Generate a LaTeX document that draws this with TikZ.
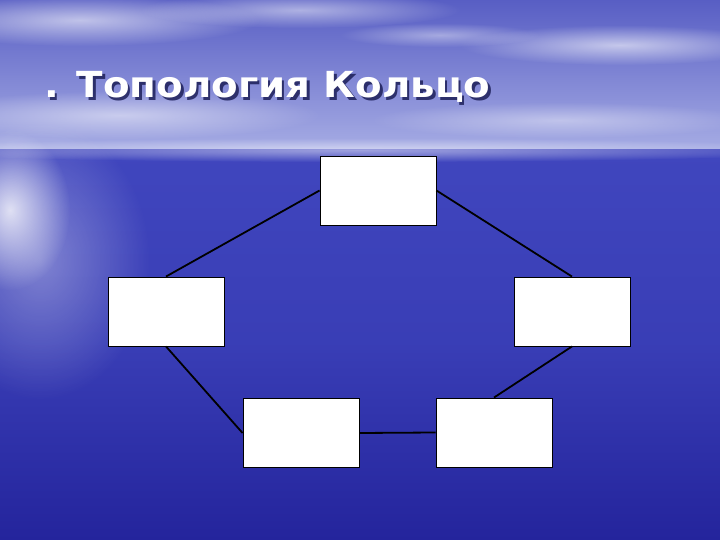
\documentclass[tikz,border=0pt]{standalone}
\usepackage{fontspec}
\setmainfont{DejaVu Sans}
\usetikzlibrary{fadings}

\definecolor{skytop}{RGB}{88,94,196}
\definecolor{horizon}{RGB}{166,172,228}
\definecolor{seatop}{RGB}{64,70,190}
\definecolor{seabot}{RGB}{36,36,156}
\definecolor{titleshadow}{RGB}{22,24,80}

\tikzfading[name=softcloud,inner color=transparent!0,outer color=transparent!100]

\tikzset{
  box/.style={draw=black,fill=white,line width=0.9bp,inner sep=0pt,
    minimum width=116bp,minimum height=69bp},
  ring/.style={black,line width=1.8bp},
  cloud/.style={white,path fading=softcloud},
  titletext/.style={anchor=base west,inner sep=0pt,
    font=\bfseries\fontsize{36}{40}\selectfont}
}

\newcommand{\titlestr}{\scalebox{1.08}[1]{. Топология Кольцо}}

\begin{document}
\begin{tikzpicture}[x=1bp,y=-1bp]
\useasboundingbox (0,0) rectangle (720,540);
\clip (0,0) rectangle (720,540);
% sky and sea
\fill[top color=skytop,bottom color=horizon](0,0) rectangle (720,150);
\fill[top color=seatop,bottom color=seabot,middle color=seatop!75!seabot](0,150) rectangle (720,540);
\fill[cloud,opacity=0.5](360,150) ellipse (480 and 12);
% clouds
\fill[cloud,opacity=0.6](80,20) ellipse (180 and 26);
\fill[cloud,opacity=0.5](300,10) ellipse (160 and 18);
\fill[cloud,opacity=0.6](620,45) ellipse (160 and 20);
\fill[cloud,opacity=0.4](440,35) ellipse (100 and 12);
\fill[cloud,opacity=0.5](120,115) ellipse (200 and 24);
\fill[cloud,opacity=0.4](560,120) ellipse (190 and 18);
% glare on the water
\fill[cloud,opacity=0.8](10,210) ellipse (60 and 80);
\fill[cloud,opacity=0.35](40,260) ellipse (110 and 140);

% title
\node[titletext,text=titleshadow,opacity=0.8] at (46.5,100.5) {\titlestr};
\node (title)[titletext,text=white] at (44,98) {\titlestr};

% ring
\node (top)[box] at (378,190.5) {};
\node (left)[box] at (166,311.5) {};
\node (right)[box] at (572,311.5) {};
\node (botleft)[box] at (301,433) {};
\node (botright)[box] at (494,432.5) {};

\draw[ring](top.west)--(left.north);
\draw[ring](top.east)--(right.north);
\draw[ring](left.south)--(botleft.west);
\draw[ring](right.south)--(botright.north);
\draw[ring](botleft.east)--(botright.west);
\end{tikzpicture}
\end{document}
